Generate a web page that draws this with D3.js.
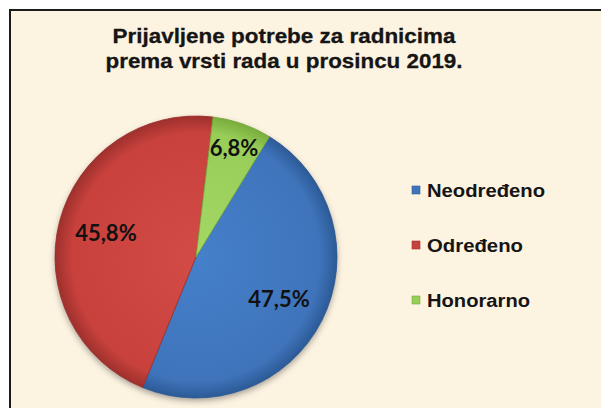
<!DOCTYPE html>
<html><head><meta charset="utf-8">
<script src="https://cdn.jsdelivr.net/npm/d3@7"></script>
<style>html,body{margin:0;padding:0;background:#fff;overflow:hidden}</style>
</head><body>
<script>
const categories = ["Neodređeno", "Određeno", "Honorarno"];
const values = [47.5, 45.8, 6.8];
const valueLabels = ["47,5%", "45,8%", "6,8%"];
const titleLines = ["Prijavljene potrebe za radnicima", "prema vrsti rada u prosincu 2019."];

const W = 601, H = 408;
const svg = d3.select("body").append("svg").attr("width", W).attr("height", H);
const defs = svg.append("defs");

const colors = d3.scaleOrdinal().domain(categories).range(["#3F74BB", "#C8413D", "#98CD58"]);
const darker = d3.scaleOrdinal().domain(categories).range(["#2C5A96", "#9E302C", "#78AC3C"]);
const lighter = d3.scaleOrdinal().domain(categories).range(["#4580CA", "#D24B47", "#A4D865"]);

// background + border
svg.append("rect").attr("x", 10).attr("y", 10).attr("width", 640).attr("height", 440)
  .attr("fill", "#FDF3E1").attr("stroke", "#1b1b1b").attr("stroke-width", 2);

// title
const title = svg.append("g").attr("font-family", "'Liberation Sans', Arial, sans-serif")
  .attr("font-weight", "bold").attr("font-size", 21).attr("fill", "#151515").attr("text-anchor", "middle")
  .attr("stroke", "#151515").attr("stroke-width", 0.3);
const titleLen = [343, 357];
titleLines.forEach((t, i) => {
  title.append("text").attr("x", 284).attr("y", 43 + i * 25).attr("textLength", titleLen[i])
    .attr("lengthAdjust", "spacingAndGlyphs").text(t);
});

// shadow filter
const f = defs.append("filter").attr("id", "sh").attr("x", "-20%").attr("y", "-20%").attr("width", "140%").attr("height", "140%");
f.append("feDropShadow").attr("dx", 0).attr("dy", 3).attr("stdDeviation", 3).attr("flood-color", "#000").attr("flood-opacity", 0.35);

const cx = 196, cy = 257, R = 141;

categories.forEach((c, i) => {
  const g = defs.append("radialGradient").attr("id", "g" + i).attr("gradientUnits", "userSpaceOnUse")
    .attr("cx", 0).attr("cy", 0).attr("r", R);
  g.append("stop").attr("offset", "0%").attr("stop-color", lighter(c));
  g.append("stop").attr("offset", "88%").attr("stop-color", colors(c));
  g.append("stop").attr("offset", "100%").attr("stop-color", darker(c));
});

const start = 31.4 * Math.PI / 180;
const pie = d3.pie().sort(null).startAngle(start).endAngle(start + 2 * Math.PI);
const arcs = pie(values);
const arc = d3.arc().innerRadius(0).outerRadius(R);

const pg = svg.append("g").attr("transform", `translate(${cx},${cy})`);
pg.append("circle").attr("r", R).attr("fill", "#888").attr("filter", "url(#sh)");
pg.selectAll("path.slice").data(arcs).join("path").attr("class", "slice")
  .attr("d", arc).attr("fill", (d, i) => `url(#g${i})`)
  .attr("stroke", (d, i) => darker(categories[i])).attr("stroke-width", 0.8);

// labels
pg.selectAll("text.lbl").data(arcs).join("text").attr("class", "lbl")
  .attr("transform", d => {
    const small = (d.endAngle - d.startAngle) < 0.6;
    const rr = small ? R * 0.82 : R * 0.66;
    const a = d3.arc().innerRadius(rr).outerRadius(rr);
    const [x, y] = a.centroid(d);
    return `translate(${x},${y})`;
  })
  .attr("text-anchor", "middle").attr("dy", "0.36em")
  .attr("font-family", "Lato, 'Open Sans', sans-serif").attr("font-weight", "bold")
  .attr("font-size", 22).attr("fill", "#111")
  .text((d, i) => valueLabels[i]);

// legend
const ly = d3.scalePoint().domain(categories).range([190, 300]);
const lg = svg.append("g");
const legLen = [118, 96, 103];
categories.forEach((c, i) => {
  const y = ly(c);
  lg.append("rect").attr("x", 412).attr("y", y - 4).attr("width", 8).attr("height", 8)
    .attr("fill", colors(c)).attr("stroke", darker(c)).attr("stroke-width", 0.6);
  lg.append("text").attr("x", 427).attr("y", y + 6.5).attr("textLength", legLen[i])
    .attr("lengthAdjust", "spacingAndGlyphs")
    .attr("font-family", "'Liberation Sans', Arial, sans-serif").attr("font-weight", "bold")
    .attr("font-size", 18).attr("fill", "#151515").text(c);
});
</script>
</body></html>
